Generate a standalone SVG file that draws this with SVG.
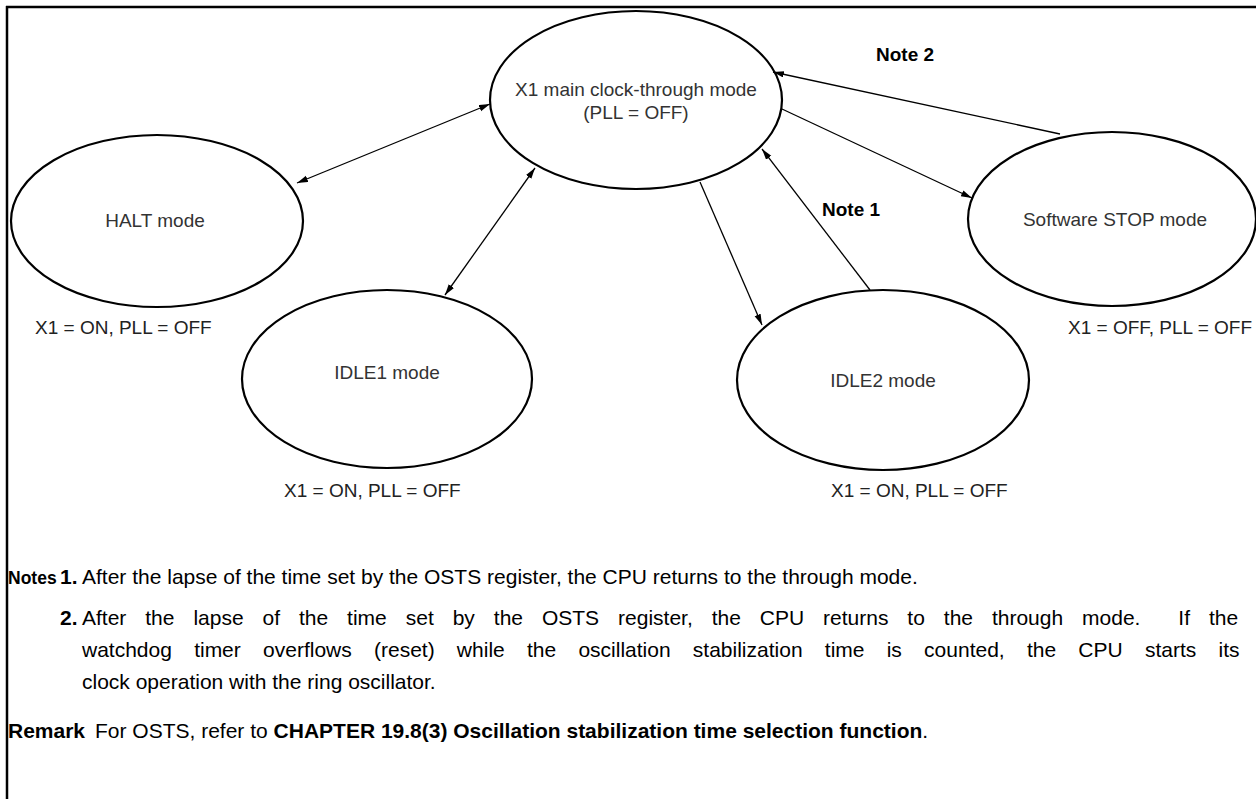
<svg xmlns="http://www.w3.org/2000/svg" width="1256" height="799" viewBox="0 0 1256 799">
<style>
.node ellipse{fill:#fff;stroke:#000;stroke-width:2.2}
.lbl{font-family:"Liberation Sans",Arial,sans-serif;font-size:19px;fill:#333;text-anchor:middle}
.cond{font-family:"Liberation Sans",Arial,sans-serif;font-size:19px;fill:#222}
.note{font-family:"Liberation Sans",Arial,sans-serif;font-size:19px;font-weight:bold;fill:#000}
.txt{font-family:"Liberation Sans",Arial,sans-serif;font-size:21px;fill:#000}
.b{font-weight:bold}
.conn line{stroke:#000;stroke-width:1.3;fill:none}
</style>
<defs>
<marker id="ah" markerUnits="userSpaceOnUse" markerWidth="12" markerHeight="8" refX="11" refY="3.25" orient="auto-start-reverse">
<path d="M0,0 L11,3.25 L0,6.5 z" fill="#000"/>
</marker>
</defs>
<rect width="1256" height="799" fill="#fff"/>
<g id="frame" stroke="#000" stroke-width="2.5" fill="none">
<line x1="6" y1="7" x2="1256" y2="7"/>
<line x1="7" y1="6" x2="7" y2="799"/>
</g>
<g id="n-x1" class="node">
<ellipse cx="636" cy="100" rx="146" ry="89"/>
<text class="lbl" x="636" y="96">X1 main clock-through mode</text>
<text class="lbl" x="636" y="119">(PLL = OFF)</text>
</g>
<g id="n-halt" class="node">
<ellipse cx="157" cy="221" rx="146" ry="86"/>
<text class="lbl" x="155" y="227">HALT mode</text>
</g>
<g id="n-idle1" class="node">
<ellipse cx="387" cy="379" rx="145" ry="89"/>
<text class="lbl" x="387" y="379">IDLE1 mode</text>
</g>
<g id="n-idle2" class="node">
<ellipse cx="883" cy="380" rx="146" ry="90"/>
<text class="lbl" x="883" y="387">IDLE2 mode</text>
</g>
<g id="n-stop" class="node">
<ellipse cx="1112" cy="219" rx="144" ry="87"/>
<text class="lbl" x="1115" y="226">Software STOP mode</text>
</g>
<g id="conditions">
<text class="cond" x="35" y="334">X1 = ON, PLL = OFF</text>
<text class="cond" x="284" y="497">X1 = ON, PLL = OFF</text>
<text class="cond" x="831" y="497">X1 = ON, PLL = OFF</text>
<text class="cond" x="1068" y="334">X1 = OFF, PLL = OFF</text>
</g>
<g id="connectors" class="conn">
<line x1="297" y1="183" x2="490" y2="104" marker-start="url(#ah)" marker-end="url(#ah)"/>
<line x1="445" y1="295" x2="535" y2="168" marker-start="url(#ah)" marker-end="url(#ah)"/>
<line x1="700" y1="182" x2="762" y2="325" marker-end="url(#ah)"/>
<line x1="870" y1="290" x2="762" y2="149" marker-end="url(#ah)"/>
<line x1="782" y1="109" x2="972" y2="198" marker-end="url(#ah)"/>
<line x1="1060" y1="134" x2="773" y2="72" marker-end="url(#ah)"/>
</g>
<g id="conn-labels">
<text class="note" x="876" y="61">Note 2</text>
<text class="note" x="822" y="216">Note 1</text>
</g>
<g id="notes" class="txt">
<text x="8" y="584"><tspan class="b" font-size="17.5">Notes</tspan><tspan class="b" x="60">1.</tspan><tspan x="82">After the lapse of the time set by the OSTS register, the CPU returns to the through mode.</tspan></text>
<text x="60" y="625" class="b">2.</text>
<text x="82" y="625" word-spacing="13.1" xml:space="preserve">After the lapse of the time set by the OSTS register, the CPU returns to the through mode.  If the</text>
<text x="82" y="657" word-spacing="16.4">watchdog timer overflows (reset) while the oscillation stabilization time is counted, the CPU starts its</text>
<text x="82" y="689">clock operation with the ring oscillator.</text>
<text x="8" y="738"><tspan class="b">Remark</tspan><tspan x="95">For OSTS, refer to </tspan><tspan class="b">CHAPTER 19.8(3) Oscillation stabilization time selection function</tspan>.</text>
</g>
</svg>
